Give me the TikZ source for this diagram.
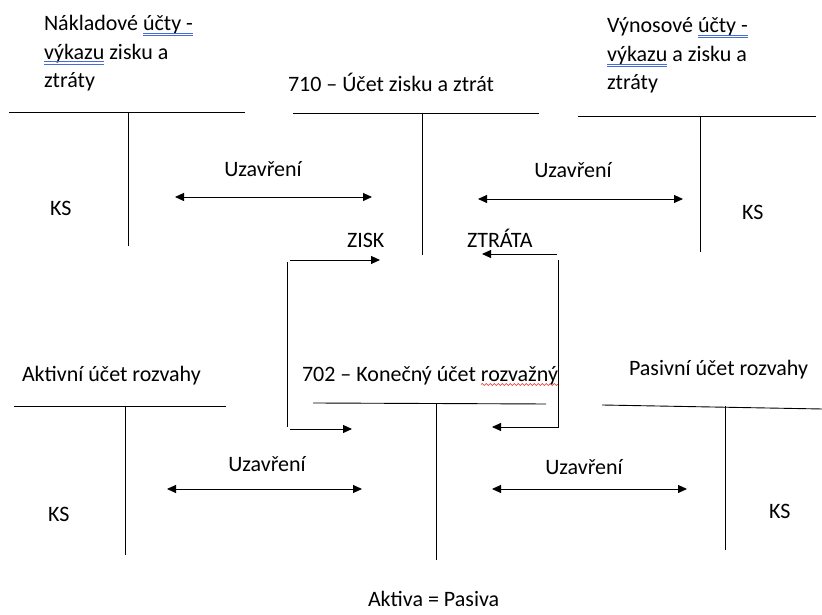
\documentclass[tikz,border=0pt]{standalone}
\usepackage{fontspec}
\setmainfont{Carlito}
\usetikzlibrary{arrows.meta,decorations.pathmorphing}
\begin{document}
\begin{tikzpicture}[x=1pt,y=1pt,
  lbl/.style={anchor=base west,inner sep=0pt,outer sep=0pt,font=\fontsize{22}{28}\selectfont},
  clbl/.style={lbl,anchor=base},
  tline/.style={draw=drawColor,line width=0.9pt},
  gram/.style={draw=gramColor,line width=0.7pt},
  spell/.style={draw=spellColor,line width=0.6pt,decorate,decoration={snake,segment length=4pt,amplitude=1pt}},
  arr/.style={draw=drawColor,line width=0.9pt,-{Triangle[length=9pt,width=8pt]}},
  darr/.style={arr,{Triangle[length=9pt,width=8pt]}-{Triangle[length=9pt,width=8pt]}}]
\definecolor{fillColor}{RGB}{255,255,255}
\definecolor{drawColor}{RGB}{0,0,0}
\definecolor{gramColor}{RGB}{70,110,210}
\definecolor{spellColor}{RGB}{225,40,40}
\path[use as bounding box,fill=fillColor] (0,0) rectangle (822,615);

% nakladove ucty
\node[lbl] (nakl1) at ( 44,584) {Nákladové};
\node[lbl] (nakl1u) at ([xshift=5pt]nakl1.base east) {účty -};
\node[lbl] (nakl2u) at ( 44,555.5) {výkazu};
\node[lbl] (nakl2) at (nakl2u.base east) {\ zisku a};
\node[lbl] (nakl3) at ( 44,527) {ztráty};
\foreach \w in {nakl1u,nakl2u}{
  \path[gram] ([yshift=-2.2pt]\w.base west) -- ([yshift=-2.2pt]\w.base east);
  \path[gram] ([yshift=-4.4pt]\w.base west) -- ([yshift=-4.4pt]\w.base east);
}
\path[tline] (  9,503) -- (245,503);
\path[tline] (128,503) -- (128,369);
\node[lbl] (ks1) at ( 50,399) {KS};

% 710
\node[lbl] (zz) at (288,523) {710 – Účet zisku a ztrát};
\path[tline] (293,502) -- (539,502);
\path[tline] (422,502) -- (422,360);
\node[lbl] (zisk) at (347,367) {ZISK};
\node[lbl] (ztrata) at (467,367) {ZTRÁTA};

% vynosove ucty
\node[lbl] (vyn1) at (607,582) {Výnosové};
\node[lbl] (vyn1u) at ([xshift=5pt]vyn1.base east) {účty -};
\node[lbl] (vyn2u) at (607,553) {výkazu};
\node[lbl] (vyn2) at (vyn2u.base east) {\ a zisku a};
\node[lbl] (vyn3) at (607,525) {ztráty};
\foreach \w in {vyn1u,vyn2u}{
  \path[gram] ([yshift=-2.2pt]\w.base west) -- ([yshift=-2.2pt]\w.base east);
  \path[gram] ([yshift=-4.4pt]\w.base west) -- ([yshift=-4.4pt]\w.base east);
}
\path[tline] (578,499) -- (816,499);
\path[tline] (700,499) -- (700,363);
\node[lbl] (ks2) at (742,395) {KS};

% uzavreni nahore
\node[clbl] (uz1) at (263,438) {Uzavření};
\node[clbl] (uz2) at (573,437) {Uzavření};
\coordinate (uz1a) at (175,418);
\coordinate (uz1b) at (372,418);
\coordinate (uz2a) at (478,416);
\coordinate (uz2b) at (683,416);
\draw[darr] (uz1a) -- (uz1b);
\draw[darr] (uz2a) -- (uz2b);

% zisk / ztrata
\coordinate (zl1) at (290,355);
\coordinate (zl2) at (380,355);
\coordinate (zl3) at (287,353);
\coordinate (zl4) at (287,188);
\coordinate (zl5) at (290,186);
\coordinate (zl6) at (352,186);
\draw[arr] (zl1) -- (zl2);
\path[tline] (zl3) -- (zl4);
\draw[arr] (zl5) -- (zl6);
\coordinate (zr1) at (557,361);
\coordinate (zr2) at (482,361);
\coordinate (zr3) at (558,355);
\coordinate (zr4) at (492,188);
\draw[arr] (zr1) -- (zr2);
\draw[arr] (zr3) |- (zr4);

% aktivni ucet
\node[lbl] (akt) at ( 22,233) {Aktivní účet rozvahy};
\path[tline] ( 14,209) -- (226,209);
\path[tline] (125,209) -- (125, 60);
\node[lbl] (ks3) at ( 48, 93) {KS};

% 702
\node[lbl] (kon) at (302,233) {702 – Konečný účet};
\node[lbl] (konu) at ([xshift=5pt]kon.base east) {rozvažný};
\path[spell] ([yshift=-2.5pt]konu.base west) -- ([yshift=-2.5pt]konu.base east);
\path[tline] (313,212) -- (546,211);
\path[tline] (436,211) -- (436, 55);

% pasivni ucet
\node[lbl] (pas) at (629,239) {Pasivní účet rozvahy};
\path[tline] (602,210) -- (822,206);
\path[tline] (725,209) -- (725, 65);
\node[lbl] (ks4) at (769, 96) {KS};

% uzavreni dole
\node[clbl] (uz3) at (267,143) {Uzavření};
\node[clbl] (uz4) at (584,140) {Uzavření};
\coordinate (uz3a) at (167,126);
\coordinate (uz3b) at (362,126);
\coordinate (uz4a) at (492,126);
\coordinate (uz4b) at (687,126);
\draw[darr] (uz3a) -- (uz3b);
\draw[darr] (uz4a) -- (uz4b);

\node[lbl] (rovnost) at (368,  8) {Aktiva = Pasiva};
\end{tikzpicture}
\end{document}
